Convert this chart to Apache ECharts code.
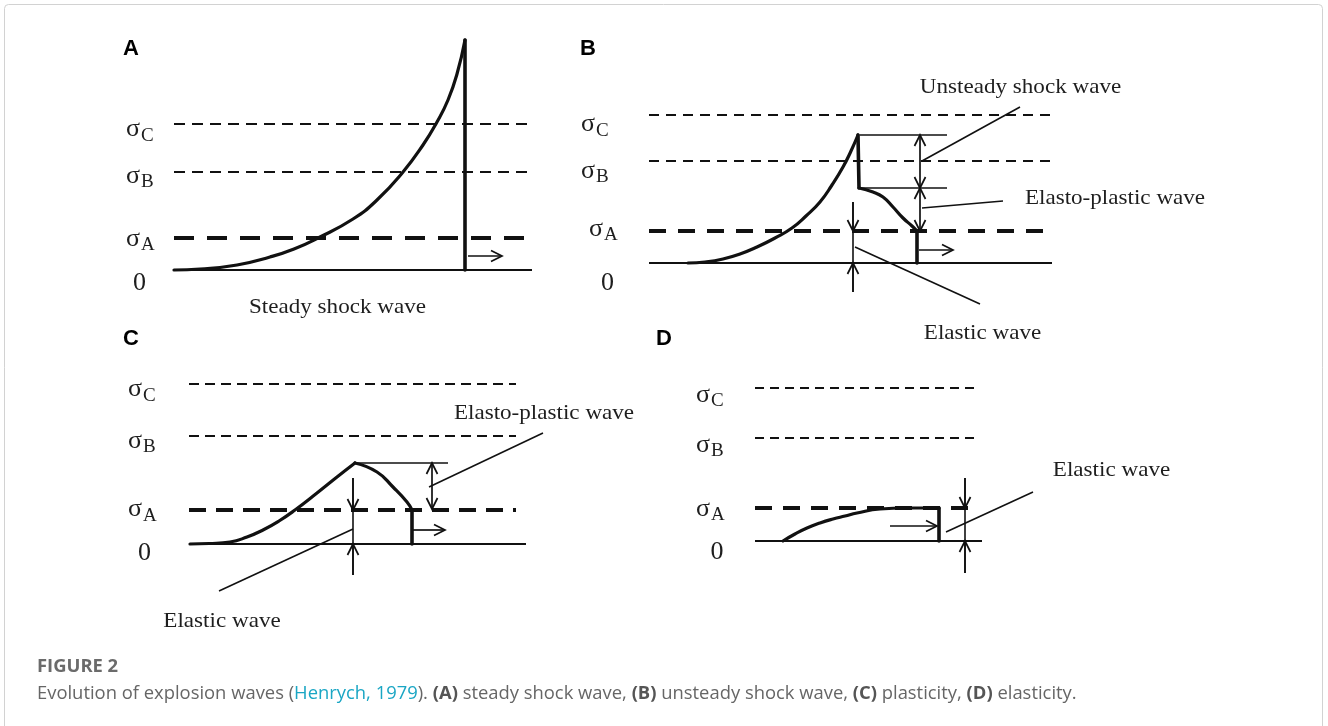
<!DOCTYPE html>
<html>
<head>
<meta charset="utf-8">
<script src="https://cdn.jsdelivr.net/npm/echarts/dist/echarts.min.js"></script>
<style>
  html, body { margin: 0; padding: 0; background: #fff; }
  #chart { width: 1328px; height: 726px; }
</style>
</head>
<body>
<div id="chart"></div>
<script>
// ================= DATA =================
// Units: x = distance along propagation direction, y = stress above the zero line (arbitrary units)
const levelSubscripts = ['A', 'B', 'C'];   // σA, σB, σC
const panelLetters = ['A', 'B', 'C', 'D'];

// ---- Panel A : steady shock wave ----
const levelsA = [32, 98, 146];
const levelSpanA = [[0, 351], [0, 358], [0, 358]];
const zeroSpanA = [0, 358];
const waveA = [[0, 0], [26, 1], [63, 5], [96, 13], [120, 21], [144, 32], [179, 51], [203, 70], [229, 98], [249, 125], [263, 148], [274, 170], [283, 196], [291, 230]];
const frontA = [[291, 230], [291, 0]];
const arrowsA = [[294, 14, 328, 14]];
const textsA = [{ t: 'Steady shock wave', p: [163.5, -37] }];

// ---- Panel B : unsteady shock wave ----
const levelsB = [32, 102, 148];
const levelSpanB = [[0, 403], [0, 403], [0, 403]];
const zeroSpanB = [0, 403];
const waveB = [[39, 0], [56, 1], [74, 4], [91, 9], [108, 16], [126, 25], [143, 35], [157, 47], [171, 61], [183, 78], [194, 96], [202, 112], [209, 128]];
const frontB = [[209, 128], [210, 75]];
const plasticB = [[210, 75], [224, 71], [234, 66], [244, 56], [254, 45], [263, 37], [268, 32]];
const tailB = [[268, 32], [268, 0]];
const thinB = [[211, 128, 298, 128], [211, 75, 298, 75], [204, 61, 204, -29], [273, 102, 371, 156], [273, 55, 354, 62], [206, 16, 331, -41]];
const arrowsB = [[271, 101, 271, 128], [271, 101, 271, 75], [271, 54, 271, 75], [271, 54, 271, 32], [204, 61, 204, 32], [204, -29, 204, 0], [270, 13, 304, 13]];
const textsB = [
  { t: 'Unsteady shock wave', p: [371.5, 176] },
  { t: 'Elasto-plastic wave', p: [466, 65] },
  { t: 'Elastic wave', p: [333.5, -70] }
];

// ---- Panel C : plasticity ----
const levelsC = [34, 108, 160];
const levelSpanC = [[0, 327], [0, 327], [0, 327]];
const zeroSpanC = [0, 337];
const waveC = [[1, 0], [20, 0.5], [41, 2], [58, 7], [74, 14], [90, 23], [106, 34], [128, 51], [148, 67], [166, 81]];
const plasticC = [[166, 81], [188, 72], [204, 57], [218, 42], [223, 34]];
const tailC = [[223, 34], [223, 0]];
const thinC = [[166, 81, 259, 81], [164, 66, 164, -31], [240, 57, 354, 111], [164, 15, 30, -47]];
const arrowsC = [[243, 58, 243, 81], [243, 58, 243, 35], [164, 66, 164, 34], [164, -31, 164, 0], [224, 14, 256, 14]];
const textsC = [
  { t: 'Elasto-plastic wave', p: [355, 131] },
  { t: 'Elastic wave', p: [33, -77] }
];

// ---- Panel D : elasticity ----
const levelsD = [33, 103, 153];
const levelSpanD = [[0, 223], [0, 223], [0, 223]];
const zeroSpanD = [0, 227];
const waveD = [[28, 0], [40, 7], [52, 13], [65, 18], [78, 22], [90, 25], [102, 28], [125, 32], [152, 33], [184, 33]];
const tailD = [[184, 33], [184, 0]];
const thinD = [[210, 63, 210, -32], [191, 9, 278, 49]];
const arrowsD = [[135, 15, 182, 15], [210, 63, 210, 33], [210, -32, 210, 0]];
const textsD = [{ t: 'Elastic wave', p: [356.5, 71] }];

// ================= LAYOUT / STYLE =================
const W = 1328, H = 726;
const INK = '#111';
const TXT = '#1e1e1e';
const SERIF = '"Liberation Serif", "Times New Roman", serif';
const SANS = '"Open Sans", "Noto Sans", sans-serif';
const origins = [[174, 270], [649, 263], [189, 544], [755, 541]];
const letterPos = [[123, 49], [580, 49], [123, 339], [656, 339]];
const labelLayout = [
  { x: [-48, -48, -48], zx: -34.5, dy: [0, 3, 4.5], zdy: 13.5 },
  { x: [-60, -68, -68], zx: -41.5, dy: [-3, 9, 8.5], zdy: 20 },
  { x: [-61, -61, -61], zx: -44.5, dy: [-1.5, 4, 4.5], zdy: 9 },
  { x: [-59, -59, -59], zx: -38, dy: [0, 6, 6], zdy: 11 }
];
const thinDash = [[11, 7], [10, 7], [10, 6], [9, 6]];
const thickDash = [[20, 13], [17, 12], [17, 10], [17, 11]];

const panels = [
  { levels: levelsA, spans: levelSpanA, zero: zeroSpanA, smooth: [waveA], straight: [frontA], thin: [], arrows: arrowsA, texts: textsA },
  { levels: levelsB, spans: levelSpanB, zero: zeroSpanB, smooth: [waveB, plasticB], straight: [frontB, tailB], thin: thinB, arrows: arrowsB, texts: textsB },
  { levels: levelsC, spans: levelSpanC, zero: zeroSpanC, smooth: [waveC, plasticC], straight: [tailC], thin: thinC, arrows: arrowsC, texts: textsC },
  { levels: levelsD, spans: levelSpanD, zero: zeroSpanD, smooth: [waveD], straight: [tailD], thin: thinD, arrows: arrowsD, texts: textsD }
];

const grids = [], xAxes = [], yAxes = [], series = [];

function segSeries(i, segs, style) {
  return {
    type: 'custom', xAxisIndex: i, yAxisIndex: i, data: segs, silent: true, clip: false, z: 2,
    renderItem: function (params, api) {
      const p1 = api.coord([api.value(0), api.value(1)]);
      const p2 = api.coord([api.value(2), api.value(3)]);
      return { type: 'line', shape: { x1: p1[0], y1: p1[1], x2: p2[0], y2: p2[1] }, style: Object.assign({ stroke: INK, fill: null }, style) };
    }
  };
}

function arrowSeries(i, arrows) {
  return {
    type: 'custom', xAxisIndex: i, yAxisIndex: i, data: arrows, silent: true, clip: false, z: 4,
    renderItem: function (params, api) {
      const p1 = api.coord([api.value(0), api.value(1)]);
      const p2 = api.coord([api.value(2), api.value(3)]);
      const dx = p2[0] - p1[0], dy = p2[1] - p1[1];
      const len = Math.hypot(dx, dy) || 1;
      const ux = dx / len, uy = dy / len;
      const L = 11, Wd = 5.5;
      const b1 = [p2[0] - ux * L - uy * Wd, p2[1] - uy * L + ux * Wd];
      const b2 = [p2[0] - ux * L + uy * Wd, p2[1] - uy * L - ux * Wd];
      const st = { stroke: INK, fill: null, lineWidth: 1.7 };
      return {
        type: 'group', children: [
          { type: 'line', shape: { x1: p1[0], y1: p1[1], x2: p2[0], y2: p2[1] }, style: st },
          { type: 'polyline', shape: { points: [b1, p2, b2] }, style: st }
        ]
      };
    }
  };
}

function curveSeries(i, pts, width, smooth) {
  return {
    type: 'line', xAxisIndex: i, yAxisIndex: i, data: pts, symbol: 'none',
    smooth: smooth ? 0.5 : false,
    lineStyle: { color: INK, width: width, cap: 'round', join: 'round' },
    silent: true, animation: false, clip: false, z: 3
  };
}

panels.forEach(function (pn, i) {
  const ox = origins[i][0], oy = origins[i][1];
  grids.push({ left: 0, top: 0, width: W, height: H, containLabel: false });
  xAxes.push({ type: 'value', gridIndex: i, min: -ox, max: W - ox, show: false });
  yAxes.push({ type: 'value', gridIndex: i, min: oy - H, max: oy, show: false });

  // stress level lines
  const thinLevels = [], thickLevels = [];
  pn.levels.forEach(function (lv, k) {
    const seg = [pn.spans[k][0], lv, pn.spans[k][1], lv];
    if (k === 0) thickLevels.push(seg); else thinLevels.push(seg);
  });
  series.push(segSeries(i, thinLevels, { lineWidth: 2, lineDash: thinDash[i] }));
  series.push(segSeries(i, thickLevels, { lineWidth: 3.8, lineDash: thickDash[i] }));
  // zero line
  series.push(segSeries(i, [[pn.zero[0], 0, pn.zero[1], 0]], { lineWidth: 2 }));
  // thin helper lines / leaders
  if (pn.thin.length) series.push(segSeries(i, pn.thin, { lineWidth: 1.6 }));
  // waves
  pn.smooth.forEach(function (c) { series.push(curveSeries(i, c, 3.2, true)); });
  pn.straight.forEach(function (c) { series.push(curveSeries(i, c, 3.6, false)); });
  // arrows
  series.push(arrowSeries(i, pn.arrows));

  // sigma labels + zero label
  const lay = labelLayout[i];
  const labelData = pn.levels.map(function (lv) { return [0, lv]; });
  labelData.push([0, 0]);
  series.push({
    type: 'custom', xAxisIndex: i, yAxisIndex: i, data: labelData, silent: true, clip: false, z: 5,
    renderItem: function (params, api) {
      const k = params.dataIndex;
      const p = api.coord([api.value(0), api.value(1)]);
      if (k === 3) {
        return { type: 'text', x: p[0] + lay.zx, y: p[1] + lay.zdy,
          style: { text: '0', fontFamily: SERIF, fontSize: 26, fill: TXT, align: 'center', verticalAlign: 'middle' } };
      }
      const cx = p[0] + lay.x[k];
      const cy = p[1] + lay.dy[k];
      return {
        type: 'group', children: [
          { type: 'text', x: cx, y: cy + 1, style: { text: 'σ', fontFamily: SERIF, fontSize: 26, fill: TXT, align: 'left', verticalAlign: 'middle' } },
          { type: 'text', x: cx + 15, y: cy + 7.5, style: { text: levelSubscripts[k], fontFamily: SERIF, fontSize: 19, fill: TXT, align: 'left', verticalAlign: 'middle' } }
        ]
      };
    }
  });

  // annotation texts
  series.push({
    type: 'custom', xAxisIndex: i, yAxisIndex: i, data: pn.texts.map(function (o) { return o.p; }), silent: true, clip: false, z: 5,
    renderItem: function (params, api) {
      const p = api.coord([api.value(0), api.value(1)]);
      return { type: 'text', x: p[0], y: p[1], scaleX: 1.1, scaleY: 1,
        style: { text: pn.texts[params.dataIndex].t, fontFamily: SERIF, fontSize: 21, fill: TXT, align: 'center', verticalAlign: 'middle' } };
    }
  });
});

const graphic = [
  { type: 'rect', silent: true, shape: { x: 4.5, y: 4.5, width: 1318, height: 800, r: 4 }, style: { fill: null, stroke: '#d2d2d2', lineWidth: 1 } },
  { type: 'text', x: 37, y: 667, style: { text: 'FIGURE 2', fontFamily: SANS, fontWeight: 'bold', fontSize: 18.4, fill: '#6b6b6b', verticalAlign: 'middle' } },
  { type: 'text', x: 37, y: 694, style: {
      text: '{t|Evolution of explosion waves (}{l|Henrych, 1979}{t|). }{b|(A)}{t| steady shock wave, }{b|(B)}{t| unsteady shock wave, }{b|(C)}{t| plasticity, }{b|(D)}{t| elasticity.}',
      verticalAlign: 'middle',
      rich: {
        t: { fontFamily: SANS, fontSize: 18.4, fill: '#666666' },
        l: { fontFamily: SANS, fontSize: 18.4, fill: '#1aa6c4' },
        b: { fontFamily: SANS, fontSize: 18.4, fontWeight: 'bold', fill: '#555555' }
      }
  } }
];
panelLetters.forEach(function (L, i) {
  graphic.push({ type: 'text', x: letterPos[i][0], y: letterPos[i][1],
    style: { text: L, fontFamily: '"Liberation Sans", Arial, sans-serif', fontWeight: 'bold', fontSize: 22, fill: '#000', verticalAlign: 'middle' } });
});

const chart = echarts.init(document.getElementById('chart'), null, { renderer: 'canvas' });
chart.setOption({
  animation: false,
  backgroundColor: '#fff',
  grid: grids,
  xAxis: xAxes,
  yAxis: yAxes,
  series: series,
  graphic: graphic
});
</script>
</body>
</html>
